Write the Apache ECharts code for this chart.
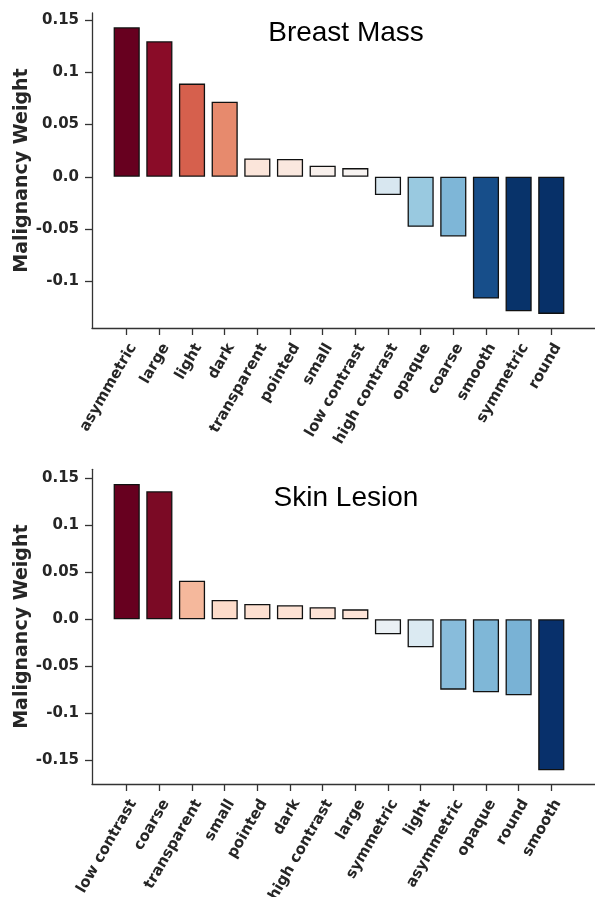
<!DOCTYPE html>
<html><head><meta charset="utf-8">
<script src="https://cdn.jsdelivr.net/npm/echarts@6/dist/echarts.min.js"></script>
<style>html,body{margin:0;padding:0;background:#fff}#c{width:595px;height:897px}</style>
</head><body><div id="c"></div>
<script>
// ---- data ----
const breastCategories = ['asymmetric','large','light','dark','transparent','pointed','small','low contrast','high contrast','opaque','coarse','smooth','symmetric','round'];
const breastValues = [0.1433,0.1299,0.0893,0.0720,0.0176,0.0170,0.0106,0.0083,-0.0176,-0.0480,-0.0573,-0.1168,-0.1289,-0.1315];
const breastColors = ['#67001f','#8a0c28','#d6604d','#e78a6d','#fbe5da','#fae8df','#f8f0ec','#f7f3f1','#d8e7f0','#99c9e0','#7eb6d7','#174e8a','#08336a','#073068'];
const breastTicks = [-0.1,-0.05,0,0.05,0.1,0.15];
const breastRange = [-0.145, 0.157];

const skinCategories = ['low contrast','coarse','transparent','small','pointed','dark','high contrast','large','symmetric','light','asymmetric','opaque','round','smooth'];
const skinValues = [0.1440,0.1362,0.0411,0.0206,0.0163,0.0149,0.0128,0.0106,-0.0160,-0.0298,-0.0748,-0.0777,-0.0809,-0.1606];
const skinColors = ['#67001f','#7b0a25','#f5b89c','#fddcca','#fde0d1','#fde2d4','#fde3d6','#fde4d8','#eaf0f4','#dbeaf2','#88bcdb','#7fb7d7','#79b2d5','#08306b'];
const skinTicks = [-0.15,-0.1,-0.05,0,0.05,0.1,0.15];
const skinRange = [-0.1752, 0.1596];

const titles = ['Breast Mass','Skin Lesion'];
const yName = 'Malignancy Weight';

// ---- layout ----
const AX = '#333333';
const TXT = '#262626';
const FONT = 'DejaVu Sans';
const panels = [
  {cats: breastCategories, vals: breastValues, cols: breastColors, ticks: breastTicks, range: breastRange, top: 13, height: 315, title: titles[0], ty: 33},
  {cats: skinCategories, vals: skinValues, cols: skinColors, ticks: skinTicks, range: skinRange, top: 469.3, height: 314.7, title: titles[1], ty: 498.5}
];
const frameLeft = 92, frameWidth = 503;
const step = 32.66, firstCenter = 126.7;
const barsLeft = firstCenter - step/2, barsWidth = step*14;

const grid = [], xAxis = [], yAxis = [], series = [], graphic = [];
panels.forEach((p, i) => {
  const gF = grid.length;
  grid.push({left: frameLeft, top: p.top, width: frameWidth, height: p.height, containLabel: false, outerBoundsMode: 'none'});
  grid.push({left: barsLeft, top: p.top, width: barsWidth, height: p.height, containLabel: false, outerBoundsMode: 'none'});
  // frame axes
  xAxis.push({type: 'value', gridIndex: gF, min: 0, max: 1, axisLine: {show: true, onZero: false, lineStyle: {color: AX, width: 1.3}},
    axisTick: {show: false}, axisLabel: {show: false}, splitLine: {show: false}});
  yAxis.push({type: 'value', gridIndex: gF, min: p.range[0], max: p.range[1],
    name: yName, nameLocation: 'middle', nameGap: 60, nameMoveOverlap: false,
    nameTextStyle: {fontFamily: FONT, fontWeight: 'bold', fontSize: 19, color: TXT},
    axisLine: {show: true, onZero: false, lineStyle: {color: AX, width: 1.3}},
    axisTick: {show: true, length: 7, lineStyle: {color: AX, width: 1.3}, customValues: p.ticks},
    axisLabel: {show: true, customValues: p.ticks, fontFamily: FONT, fontWeight: 'bold', fontSize: 15, color: TXT, margin: 13,
      formatter: v => (Math.abs(v) < 1e-9 ? '0.0' : String(+v.toFixed(2)))},
    splitLine: {show: false}});
  // bar axes
  xAxis.push({type: 'category', gridIndex: gF + 1, data: p.cats, boundaryGap: true,
    axisLine: {show: false, onZero: false}, axisTick: {show: true, alignWithLabel: true, length: 7, lineStyle: {color: AX, width: 1.3}},
    axisLabel: {interval: 0, rotate: 60, verticalAlign: 'top', fontFamily: FONT, fontWeight: 'bold', fontSize: 15, color: TXT, margin: 13}});
  yAxis.push({type: 'value', gridIndex: gF + 1, min: p.range[0], max: p.range[1], show: false, splitLine: {show: false}});
  series.push({type: 'bar', xAxisIndex: gF + 1, yAxisIndex: gF + 1, barWidth: '80%',
    data: p.vals.map((v, k) => ({value: v, itemStyle: {color: p.cols[k]}})),
    itemStyle: {borderColor: '#111', borderWidth: 1.3}, animation: false});
  graphic.push({type: 'text', style: {x: 346, y: p.ty, text: p.title, textAlign: 'center', textVerticalAlign: 'middle',
    font: '28px "Liberation Sans", Arial, sans-serif', fill: '#000'}});
});

const chart = echarts.init(document.getElementById('c'), null, {renderer: 'canvas'});
chart.setOption({animation: false, grid, xAxis, yAxis, series, graphic});
</script></body></html>
